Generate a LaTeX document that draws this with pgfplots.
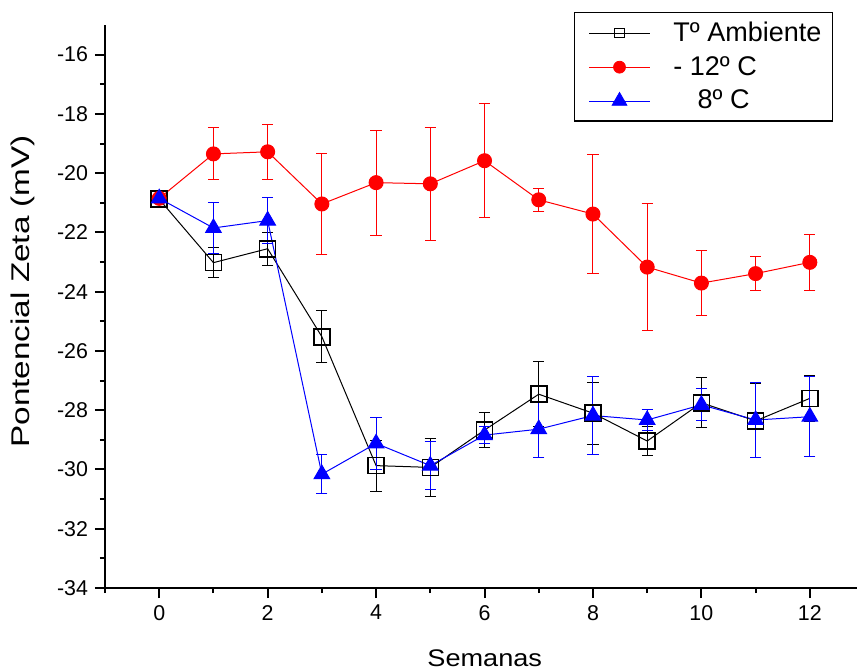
\documentclass[border=0pt]{standalone}
\usepackage{pgfplots}
\pgfplotsset{compat=1.18}
\usepackage{fontspec}
\setmainfont{Liberation Sans}
\pgfplotsset{
    legsample/.style={legend image code/.code={
        \path (0pt,0pt);
        \draw[mark repeat=2, mark phase=2, line width=0.4pt, mark options={scale=#1}]
        plot coordinates {(2.5pt,0pt) (17.75pt,0pt) (33pt,0pt)};
    }}
}
\begin{document}
\begin{tikzpicture}
% picture frame: axis box is (0,0)--(376pt,281.5pt)
\path[use as bounding box] (-52.5pt,-40.5pt) rectangle (376pt,294pt);
\begin{axis}[
    scale only axis,
    width=376pt, height=281.5pt,
    xmin=-1, xmax=12.87,
    ymin=-34, ymax=-15,
    axis x line*=bottom, axis y line*=left,
    axis line style={line width=1pt},
    xtick={0,2,...,12}, ytick={-34,-32,...,-16},
    minor xtick={-1,1,...,11}, minor ytick={-33,-31,...,-17},
    tick align=outside,
    major tick length=5pt, minor tick length=2.5pt,
    every tick/.style={black, line width=1pt},
    tick label style={font=\fontsize{10.7}{12}\selectfont},
    /pgf/number format/assume math mode=true,
    xlabel={\scalebox{1.13}[1]{Semanas}},
    ylabel={\scalebox{1.3}[1]{Pontencial Zeta (mV)}},
    xlabel style={font=\fontsize{12}{14}\selectfont, at={(rel axis cs:0.505,0)}, anchor=center, yshift=-35pt},
    ylabel style={font=\fontsize{12.8}{14}\selectfont, at={(rel axis cs:0,0.527)}, anchor=center, yshift=41pt},
    legend style={
        at={(rel axis cs:0.968,1.023)}, anchor=north east,
        draw=black, line width=0.6pt,
        font=\fontsize{13.5}{15}\selectfont,
        row sep=2pt, inner xsep=4.5pt, inner ysep=2.5pt,
        nodes={inner xsep=1pt},
        /tikz/every odd column/.append style={column sep=10.5pt}
    },
    legend cell align=left,
    clip=false
]
% --- T ambiente ---
\addplot[black, line width=0.5pt, mark=square, mark size=4pt,
    mark options={fill=white, line width=0.8pt}, legsample=0.6,
    error bars/.cd, y dir=both, y explicit,
    error bar style={black, line width=0.5pt},
    error mark options={rotate=90, mark size=2.8pt, line width=0.5pt}]
coordinates {
(0,-20.88) +- (0,0.1)
(1,-23.02) +- (0,0.51)
(2,-22.55) +- (0,0.56)
(3,-25.52) +- (0,0.87)
(4,-29.87) +- (0,0.86)
(5,-29.93) +- (0,0.98)
(6,-28.67) +- (0,0.59)
(7,-27.46) +- (0,1.1)
(8,-28.10) +- (0,1.05)
(9,-29.04) +- (0,0.5)
(10,-27.75) +- (0,0.85)
(11,-28.36) +- (0,1.25)
(12,-27.60) +- (0,0.78)
};
\addlegendentry{Tº Ambiente}
% --- -12 C ---
\addplot[red, line width=0.5pt, mark=*, mark size=3.5pt,
    mark options={fill=red}, legsample=0.85,
    error bars/.cd, y dir=both, y explicit,
    error bar style={red, line width=0.5pt},
    error mark options={rotate=90, mark size=2.8pt, line width=0.5pt}]
coordinates {
(0,-20.85) +- (0,0.1)
(1,-19.35) +- (0,0.88)
(2,-19.28) +- (0,0.93)
(3,-21.04) +- (0,1.71)
(4,-20.32) +- (0,1.77)
(5,-20.36) +- (0,1.9)
(6,-19.58) +- (0,1.93)
(7,-20.90) +- (0,0.39)
(8,-21.38) +- (0,2.02)
(9,-23.17) +- (0,2.14)
(10,-23.71) +- (0,1.11)
(11,-23.39) +- (0,0.57)
(12,-23.01) +- (0,0.95)
};
\addlegendentry{- 12º C}
% --- 8 C ---
\addplot[blue, line width=0.5pt, mark=triangle*, mark size=4.5pt,
    mark options={fill=blue}, legsample=0.95,
    error bars/.cd, y dir=both, y explicit,
    error bar style={blue, line width=0.5pt},
    error mark options={rotate=90, mark size=2.8pt, line width=0.5pt}]
coordinates {
(0,-20.85) +- (0,0.1)
(1,-21.85) +- (0,0.85)
(2,-21.60) +- (0,0.79)
(3,-30.16) +- (0,0.65)
(4,-29.12) +- (0,0.87)
(5,-29.87) +- (0,0.8)
(6,-28.84) +- (0,0.3)
(7,-28.64) +- (0,0.95)
(8,-28.18) +- (0,1.32)
(9,-28.33) +- (0,0.34)
(10,-27.82) +- (0,0.54)
(11,-28.33) +- (0,1.26)
(12,-28.22) +- (0,1.35)
};
\addlegendentry{\hspace{0.9em}8º C}
\end{axis}
\end{tikzpicture}
\end{document}
